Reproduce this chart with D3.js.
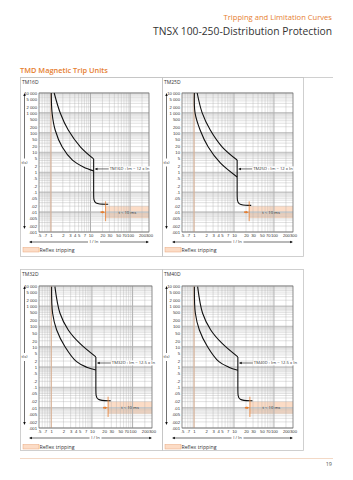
<!DOCTYPE html>
<html>
<head>
<meta charset="utf-8">
<script src="https://cdn.jsdelivr.net/npm/d3@7"></script>
<style>
  body { margin: 0; background: #fff; }
  svg { display: block; font-family: 'Open Sans', 'Noto Sans', sans-serif; }
</style>
</head>
<body>
<script>
// ---- data ----
const yTickValues = [10000, 5000, 2000, 1000, 500, 200, 100, 50, 20, 10, 5, 2, 1, 0.5, 0.2, 0.1, 0.05, 0.02, 0.01, 0.005, 0.002, 0.001];
const yTickLabels = ['10 000', '5 000', '2 000', '1 000', '500', '200', '100', '50', '20', '10', '5', '2', '1', '.5', '.2', '.1', '.05', '.02', '.01', '.005', '.002', '.001'];
const xTickValues = [0.5, 0.7, 1, 2, 3, 4, 5, 7, 10, 20, 30, 50, 70, 100, 200, 300];
const xTickLabels = ['.5', '.7', '1', '2', '3', '4', '5', '7', '10', '20', '30', '50', '70', '100', '200', '300'];

const unitNames = ['TM16D', 'TM25D', 'TM32D', 'TM40D'];
const magLabels = ['TM16D : Im = 12 x In', 'TM25D : Im = 12 x In', 'TM32D : Im = 12.5 x In', 'TM40D : Im = 12.5 x In'];
const imSettings = [12, 12, 12.5, 12.5];
const reflexFrom = [24, 24, 25, 25];
const labelTime = [1.5, 1.5, 1.6, 1.6];

// thermal curves, [I/In, t (s)]
const tm16Min = [[1.02, 10000], [1.07, 990], [1.28, 137], [1.93, 19], [3.5, 4.2], [6.6, 1.9], [12, 1.2]];
const tm16Max = [[1.21, 10000], [1.72, 990], [2.74, 137], [5.6, 19], [12, 4.8]];
const tm25Min = [[1.02, 10000], [1.06, 1000], [1.42, 137], [2.27, 19], [4.55, 3], [12, 0.59]];
const tm25Max = [[1.2, 10000], [1.6, 1000], [2.55, 137], [5.1, 19], [12, 4.2]];
const tm32Min = [[1.02, 9300], [1.08, 452], [1.36, 68], [2.18, 10.2], [4.2, 1.86], [7.4, 1.0], [12.5, 0.73]];
const tm32Max = [[1.23, 9300], [1.64, 452], [2.62, 68], [5.05, 14.7], [12.5, 3.2]];
const tm40Min = [[1.02, 9300], [1.08, 452], [1.36, 68], [2.18, 10.2], [4.2, 1.86], [7.4, 1.0], [12.5, 0.7]];
const tm40Max = [[1.23, 9300], [1.64, 452], [2.62, 68], [5.05, 14.7], [12.5, 3.2]];

// magnetic part, [I/In, t (s)]
const tm16Mag = [[12, 4.8], [12, 0.06], [12, 0.025], [28, 0.025]];
const tm25Mag = [[12, 4.2], [12, 0.06], [12, 0.022], [27, 0.022]];
const tm32Mag = [[12.5, 3.2], [12.5, 0.06], [12.5, 0.022], [29, 0.022]];
const tm40Mag = [[12.5, 3.2], [12.5, 0.06], [12.5, 0.022], [29, 0.022]];

const minCurves = [tm16Min, tm25Min, tm32Min, tm40Min];
const maxCurves = [tm16Max, tm25Max, tm32Max, tm40Max];
const magCurves = [tm16Mag, tm25Mag, tm32Mag, tm40Mag];

// ---- layout ----
const W = 353, H = 480;
const orange = '#e67e30';
const peach = '#fcdcc6';

const panels = [
  { x: 20, y: 77, w: 142, h: 179, plot: { x0: 39, x1: 149, y0: 93, y1: 232 } },
  { x: 162, y: 77, w: 141, h: 179, plot: { x0: 182, x1: 293, y0: 93, y1: 232 } },
  { x: 20, y: 269, w: 142, h: 181, plot: { x0: 39, x1: 152, y0: 286, y1: 428 } },
  { x: 162, y: 269, w: 141, h: 181, plot: { x0: 182, x1: 293, y0: 286, y1: 428 } },
];

let svg = d3.select('body').append('svg').attr('width', W).attr('height', H);

// header
svg.append('text').attr('x', 332).attr('y', 20).attr('text-anchor', 'end')
  .attr('font-size', 7.6).attr('fill', orange).text('Tripping and Limitation Curves');
svg.append('text').attr('x', 332).attr('y', 35).attr('text-anchor', 'end')
  .attr('font-size', 10.3).attr('fill', '#333').text('TNSX 100-250-Distribution Protection');
svg.append('text').attr('x', 20).attr('y', 73).attr('font-size', 7.4).attr('font-weight', 600)
  .attr('fill', orange).text('TMD Magnetic Trip Units');
svg.append('line').attr('x1', 20).attr('x2', 333).attr('y1', 77.5).attr('y2', 77.5)
  .attr('stroke', '#c4c4c4').attr('stroke-width', 0.8);

// footer
svg.append('line').attr('x1', 20).attr('x2', 333).attr('y1', 458.5).attr('y2', 458.5)
  .attr('stroke', '#f3d9c6').attr('stroke-width', 1);
svg.append('text').attr('x', 332).attr('y', 466).attr('text-anchor', 'end')
  .attr('font-size', 5.5).attr('fill', '#555').text('19');

// grid values (log minors)
const yGrid = [];
for (let e = -3; e <= 3; e++) for (let m = 1; m <= 9; m++) yGrid.push(m * Math.pow(10, e));
yGrid.push(10000);
const xGrid = [];
for (let e = -1; e <= 2; e++) for (let m = 1; m <= 9; m++) {
  const v = m * Math.pow(10, e);
  if (v >= 0.5 && v <= 300) xGrid.push(v);
}

panels.forEach((p, i) => drawPanel(p, i));

function arrowHead(g, x, y, dir, color) {
  const s = 1.8;
  let pts;
  if (dir === 'up') pts = [[x, y], [x - s * 0.7, y + s * 1.6], [x + s * 0.7, y + s * 1.6]];
  if (dir === 'down') pts = [[x, y], [x - s * 0.7, y - s * 1.6], [x + s * 0.7, y - s * 1.6]];
  if (dir === 'left') pts = [[x, y], [x + s * 1.6, y - s * 0.7], [x + s * 1.6, y + s * 0.7]];
  if (dir === 'right') pts = [[x, y], [x - s * 1.6, y - s * 0.7], [x - s * 1.6, y + s * 0.7]];
  g.append('path').attr('d', 'M' + pts.join('L') + 'Z').attr('fill', color);
}

function drawPanel(p, i) {
  const g = svg.append('g');
  const pl = p.plot;

  // panel frame
  g.append('rect').attr('x', p.x + 0.5).attr('y', p.y + 0.5).attr('width', p.w).attr('height', p.h)
    .attr('fill', 'none').attr('stroke', '#c4c4c4').attr('stroke-width', 0.8);
  g.append('text').attr('x', p.x + 2).attr('y', p.y + 6.5).attr('font-size', 5)
    .attr('fill', '#333').text(unitNames[i]);

  const x = d3.scaleLog().domain([0.5, 300]).range([pl.x0, pl.x1]);
  const y = d3.scaleLog().domain([0.001, 10000]).range([pl.y1, pl.y0]);

  // reflex area
  g.append('rect').attr('x', x(reflexFrom[i])).attr('y', y(0.02))
    .attr('width', x(300) - x(reflexFrom[i])).attr('height', y(0.005) - y(0.02))
    .attr('fill', peach);

  // grid
  g.append('g').selectAll('line').data(yGrid).join('line')
    .attr('x1', pl.x0).attr('x2', pl.x1)
    .attr('y1', (d) => y(d)).attr('y2', (d) => y(d))
    .attr('stroke', (d) => (Math.abs(Math.log10(d) % 1) < 1e-9 ? '#c8c8c8' : '#a8a8a8'))
    .attr('stroke-width', (d) => (Math.abs(Math.log10(d) % 1) < 1e-9 ? 1.6 : 0.35));
  g.append('g').selectAll('line').data(xGrid).join('line')
    .attr('y1', pl.y0).attr('y2', pl.y1)
    .attr('x1', (d) => x(d)).attr('x2', (d) => x(d))
    .attr('stroke', (d) => (Math.abs(Math.log10(d) % 1) < 1e-9 ? '#b0b0b0' : '#a8a8a8'))
    .attr('stroke-width', (d) => (Math.abs(Math.log10(d) % 1) < 1e-9 ? 1 : 0.35));

  // I/In = 1 line
  g.append('line').attr('x1', x(1)).attr('x2', x(1)).attr('y1', pl.y0).attr('y2', pl.y1)
    .attr('stroke', '#f4b48a').attr('stroke-width', 0.7);

  // plot frame
  g.append('rect').attr('x', pl.x0).attr('y', pl.y0).attr('width', pl.x1 - pl.x0).attr('height', pl.y1 - pl.y0)
    .attr('fill', 'none').attr('stroke', '#666').attr('stroke-width', 0.6);

  // axes labels
  const axisY = d3.axisLeft(y).tickValues(yTickValues).tickFormat((d, k) => yTickLabels[k]).tickSize(0).tickPadding(2);
  const gy = g.append('g').attr('transform', `translate(${pl.x0},0)`).call(axisY);
  const axisX = d3.axisBottom(x).tickValues(xTickValues).tickFormat((d, k) => xTickLabels[k]).tickSize(0).tickPadding(2);
  const gx = g.append('g').attr('transform', `translate(0,${pl.y1})`).call(axisX);
  [gx, gy].forEach((a) => {
    a.select('.domain').remove();
    a.selectAll('text').attr('font-size', 4.2).attr('fill', '#333').attr('font-family', 'Liberation Sans, Arial, sans-serif');
  });

  // curves
  const line = d3.line().x((d) => x(d[0])).y((d) => y(d[1])).curve(d3.curveCatmullRom.alpha(0.5));
  [minCurves[i], maxCurves[i]].forEach((c) => {
    g.append('path').attr('d', line(c)).attr('fill', 'none').attr('stroke', '#111').attr('stroke-width', 1.1);
  });
  const magLine = d3.line().x((d) => x(d[0])).y((d) => y(d[1])).curve(d3.curveBasis);
  g.append('path').attr('d', magLine(magCurves[i])).attr('fill', 'none').attr('stroke', '#111').attr('stroke-width', 1.1);

  // reflex marker
  const xr = x(reflexFrom[i]);
  g.append('line').attr('x1', xr).attr('x2', xr).attr('y1', y(0.035)).attr('y2', y(0.0035))
    .attr('stroke', orange).attr('stroke-width', 0.8);
  arrowHead(g, xr - 0.5, y(0.01), 'right', orange);
  g.append('line').attr('x1', xr - 5).attr('x2', xr - 2).attr('y1', y(0.01)).attr('y2', y(0.01))
    .attr('stroke', orange).attr('stroke-width', 1.6);
  g.append('text').attr('x', (xr + x(300)) / 2).attr('y', y(0.01) + 1.4).attr('text-anchor', 'middle')
    .attr('font-size', 4.2).attr('fill', '#333').text('t < 10 ms');

  // Im label
  const xm = x(imSettings[i]);
  const ym = y(labelTime[i]);
  const lab = g.append('text').attr('x', xm + 16).attr('y', ym + 1.4).attr('font-size', 4.2)
    .attr('fill', '#333').text(magLabels[i]);
  const bb = lab.node().getBBox();
  g.insert('rect', () => lab.node()).attr('x', bb.x - 0.5).attr('y', bb.y).attr('width', bb.width + 1).attr('height', bb.height)
    .attr('fill', '#fff');
  g.append('line').attr('x1', xm + 2).attr('x2', xm + 15).attr('y1', ym).attr('y2', ym)
    .attr('stroke', '#111').attr('stroke-width', 0.6);
  arrowHead(g, xm + 1, ym, 'left', '#111');

  // t(s) axis arrow
  const ax = p.x + 4.5;
  const ymid = (pl.y0 + pl.y1) / 2;
  g.append('line').attr('x1', ax).attr('x2', ax).attr('y1', pl.y0 + 1).attr('y2', ymid - 4)
    .attr('stroke', '#111').attr('stroke-width', 0.6);
  g.append('line').attr('x1', ax).attr('x2', ax).attr('y1', ymid + 4).attr('y2', pl.y1 - 4)
    .attr('stroke', '#111').attr('stroke-width', 0.6);
  arrowHead(g, ax, pl.y0, 'up', '#111');
  arrowHead(g, ax, pl.y1 - 3, 'down', '#111');
  g.append('text').attr('x', ax).attr('y', ymid + 1.4).attr('text-anchor', 'middle')
    .attr('font-size', 4.2).attr('fill', '#333').text('t(s)');

  // I/In axis arrow
  const ay = pl.y1 + 10;
  const xmid = (pl.x0 + pl.x1) / 2;
  g.append('line').attr('x1', pl.x0 - 9).attr('x2', xmid - 6).attr('y1', ay).attr('y2', ay)
    .attr('stroke', '#111').attr('stroke-width', 0.6);
  g.append('line').attr('x1', xmid + 6).attr('x2', pl.x1 - 1).attr('y1', ay).attr('y2', ay)
    .attr('stroke', '#111').attr('stroke-width', 0.6);
  arrowHead(g, pl.x0 - 10, ay, 'left', '#111');
  arrowHead(g, pl.x1, ay, 'right', '#111');
  g.append('text').attr('x', xmid).attr('y', ay + 1.4).attr('text-anchor', 'middle')
    .attr('font-size', 4.2).attr('fill', '#333').text('I / In');

  // legend
  const ly = pl.y1 + (i < 2 ? 18 : 19);
  g.append('rect').attr('x', p.x + 3).attr('y', ly - 2.5).attr('width', 16).attr('height', 4.5)
    .attr('fill', peach).attr('stroke', '#e9a77c').attr('stroke-width', 0.5);
  g.append('text').attr('x', p.x + 19.5).attr('y', ly + 2).attr('font-size', 5.2)
    .attr('fill', '#333').text('Reflex tripping');
}
</script>
</body>
</html>
